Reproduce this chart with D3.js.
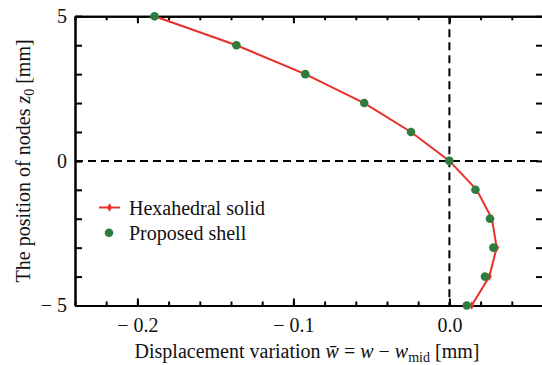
<!DOCTYPE html>
<html><head><meta charset="utf-8">
<script src="https://cdn.jsdelivr.net/npm/d3@7"></script>
<style>body{margin:0;background:#fff}svg{display:block}text{font-family:"Liberation Serif","DejaVu Serif",serif;fill:#111}</style>
</head><body><svg id="c" width="542" height="365"></svg>
<script>
const zPos = [5, 4, 3, 2, 1, 0, -1, -2, -3, -4, -5];
const hexaSolid = [-0.189, -0.1365, -0.0924, -0.0546, -0.0246, 0.0, 0.0175, 0.0273, 0.0303, 0.0256, 0.0143];
const proposedShell = [-0.189, -0.1365, -0.0924, -0.0546, -0.0246, 0.0, 0.0167, 0.026, 0.0282, 0.0228, 0.0111];
const xTicks = [-0.2, -0.1, 0.0];
const xTickLabels = ["\u2212 0.2", "\u2212 0.1", "0.0"];
const yTicks = [5, 0, -5];
const yTickLabels = ["5", "0", "\u2212 5"];
const seriesNames = ["Hexahedral solid", "Proposed shell"];

const svg = d3.select("#c");
const L = 75, R = 543, T = 16.3, B = 305.5;
const x = d3.scaleLinear().domain([-0.24, 0.06]).range([L, R]);
const y = d3.scaleLinear().domain([-5, 5]).range([B, T]);
const red = "#e8302a", green = "#2e7d3e";
const FS = 20;

svg.append("line").attr("x1", x(0)).attr("x2", x(0)).attr("y1", T).attr("y2", B)
  .attr("stroke", "#000").attr("stroke-width", 2).attr("stroke-dasharray", "8,5");
svg.append("line").attr("x1", L).attr("x2", R).attr("y1", y(0)).attr("y2", y(0))
  .attr("stroke", "#000").attr("stroke-width", 2).attr("stroke-dasharray", "8,5");

const minorX = d3.range(-0.24, 0.0601, 0.02).map(v => +v.toFixed(3));
const minorY = d3.range(-5, 5.01, 1);
svg.append("g").attr("transform", `translate(0,${B})`)
  .call(d3.axisBottom(x).tickValues(minorX).tickSizeInner(-4).tickSizeOuter(0).tickFormat(""));
svg.append("g").attr("transform", `translate(0,${B})`)
  .call(d3.axisBottom(x).tickValues(xTicks).tickSizeInner(-7).tickSizeOuter(0).tickPadding(12)
    .tickFormat((d, i) => xTickLabels[i]));
svg.append("g").attr("transform", `translate(0,${T})`)
  .call(d3.axisTop(x).tickValues(minorX).tickSizeInner(-4).tickSizeOuter(0).tickFormat(""));
svg.append("g").attr("transform", `translate(0,${T})`)
  .call(d3.axisTop(x).tickValues(xTicks).tickSizeInner(-7).tickSizeOuter(0).tickFormat(""));
svg.append("g").attr("transform", `translate(${L},0)`)
  .call(d3.axisLeft(y).tickValues(minorY).tickSizeInner(-7).tickSizeOuter(0).tickFormat(""));
svg.append("g").attr("transform", `translate(${L},0)`)
  .call(d3.axisLeft(y).tickValues(yTicks).tickSizeInner(-7).tickSizeOuter(0).tickPadding(8)
    .tickFormat((d, i) => yTickLabels[i]));
svg.append("g").attr("transform", `translate(${R},0)`)
  .call(d3.axisRight(y).tickValues(minorY).tickSizeInner(-7).tickSizeOuter(0).tickFormat(""));
svg.selectAll("g").attr("font-size", FS).attr("font-family", '"Liberation Serif",serif');
svg.selectAll(".domain").attr("stroke", "#000").attr("stroke-width", 2);
svg.selectAll(".tick line").attr("stroke", "#000").attr("stroke-width", 2);
svg.selectAll(".tick text").attr("fill", "#111");

const line = d3.line().x(d => x(d[0])).y(d => y(d[1]));
const hexData = hexaSolid.map((v, i) => [v, zPos[i]]);
svg.append("path").datum(hexData).attr("d", line).attr("fill", "none")
  .attr("stroke", red).attr("stroke-width", 2);
svg.selectAll(".hm").data(hexData).enter().append("path")
  .attr("d", d3.symbol(d3.symbolDiamond, 22)())
  .attr("transform", d => `translate(${x(d[0])},${y(d[1])})`).attr("fill", red);
svg.selectAll(".gp").data(proposedShell.map((v, i) => [v, zPos[i]])).enter().append("circle")
  .attr("cx", d => x(d[0])).attr("cy", d => y(d[1])).attr("r", 4.3).attr("fill", green);

svg.append("line").attr("x1", 99).attr("x2", 120).attr("y1", 207.5).attr("y2", 207.5)
  .attr("stroke", red).attr("stroke-width", 2);
svg.append("path").attr("d", d3.symbol(d3.symbolDiamond, 22)()).attr("transform", "translate(109.5,207.5)").attr("fill", red);
svg.append("text").attr("x", 129).attr("y", 215).attr("font-size", FS).text(seriesNames[0]);
svg.append("circle").attr("cx", 109).attr("cy", 232.7).attr("r", 4.3).attr("fill", green);
svg.append("text").attr("x", 129).attr("y", 240).attr("font-size", FS).text(seriesNames[1]);

const xl = svg.append("text").attr("x", 307).attr("y", 358).attr("text-anchor", "middle").attr("font-size", FS);
xl.append("tspan").text("Displacement variation ");
xl.append("tspan").attr("font-style", "italic").text("w\u0304");
xl.append("tspan").text(" = ");
xl.append("tspan").attr("font-style", "italic").text("w");
xl.append("tspan").text(" \u2212 ");
xl.append("tspan").attr("font-style", "italic").text("w");
xl.append("tspan").attr("font-size", 14).attr("dy", 4).text("mid");
xl.append("tspan").attr("dy", -4).text(" [mm]");

const yl = svg.append("text").attr("transform", `translate(30,${(T + B) / 2}) rotate(-90)`)
  .attr("text-anchor", "middle").attr("font-size", FS);
yl.append("tspan").text("The position of nodes ");
yl.append("tspan").attr("font-style", "italic").text("z");
yl.append("tspan").attr("font-size", 14).attr("dy", 4).text("0");
yl.append("tspan").attr("dy", -4).text(" [mm]");
</script></body></html>
